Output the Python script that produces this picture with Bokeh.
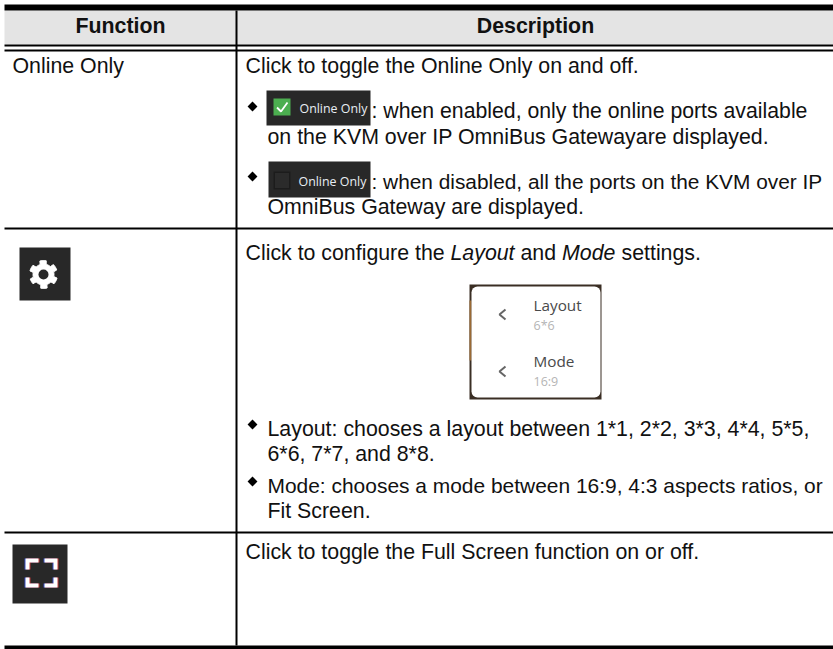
from bokeh.plotting import figure
from bokeh.embed import file_html
from bokeh.resources import INLINE
from bokeh.core.properties import value
import numpy as np

W, H = 833, 649
ARIAL = "Liberation Sans"
OPEN = "Open Sans"

headers = ["Function", "Description"]
function_labels = ["Online Only"]
desc_lines = [
    "Click to toggle the Online Only on and off.",
    ": when enabled, only the online ports available",
    "on the KVM over IP OmniBus Gatewayare displayed.",
    ": when disabled, all the ports on the KVM over IP",
    "OmniBus Gateway are displayed.",
    "Layout: chooses a layout between 1*1, 2*2, 3*3, 4*4, 5*5,",
    "6*6, 7*7, and 8*8.",
    "Mode: chooses a mode between 16:9, 4:3 aspects ratios, or",
    "Fit Screen.",
    "Click to toggle the Full Screen function on or off.",
]
configure_parts = ["Click to configure the", "Layout", "and", "Mode", "settings."]
icon_label = "Online Only"
menu_titles = ["Layout", "Mode"]
menu_values = ["6*6", "16:9"]

p = figure(width=W, height=H, x_range=(0, W), y_range=(H, 0), toolbar_location=None,
           output_backend="svg", min_border=0)
p.axis.visible = False
p.grid.visible = False
p.outline_line_color = None

def box(x0, y0, x1, y1, color):
    p.quad(left=x0, right=x1, top=y0, bottom=y1, fill_color=color, line_color=None)

def txt(x, y, s, size=21.33, font=ARIAL, color="#111111", style="normal", align="left"):
    p.text(x=[x], y=[y], text=[s], text_font=value(font), text_font_size=f"{size}px",
           text_color=color, text_font_style=style, text_align=align, text_baseline="middle")

box(4, 10, W, 44, "#e4e4e4")
box(4, 4, W, 10, "black")
box(4, 44, W, 46, "black")
box(4, 49, W, 51, "black")
box(4, 227, W, 229, "black")
box(4, 531, W, 533, "black")
box(4, 645, W, 649, "black")
box(235, 10, 237, 645, "black")

txt(120, 25, headers[0], style="bold", align="center")
txt(535, 25, headers[1], style="bold", align="center")
txt(12, 65, function_labels[0])

txt(245, 65, desc_lines[0])
txt(371, 110, desc_lines[1], 21.25)
txt(267, 136, desc_lines[2])
txt(371, 180.5, desc_lines[3], 20.85)
txt(267, 206, desc_lines[4])
txt(267, 428, desc_lines[5])
txt(267, 453, desc_lines[6])
txt(267, 485, desc_lines[7], 20.95)
txt(267, 510, desc_lines[8])
txt(245, 551, desc_lines[9])

xs = [245, 450, 520, 561.5, 621]
styles = ["normal", "italic", "normal", "italic", "normal"]
for x, s, st in zip(xs, configure_parts, styles):
    txt(x, 252, s, style=st)

p.scatter(x=[252, 252, 252, 252], y=[106, 176, 424, 481], marker="square", angle=np.pi / 4,
          size=7, fill_color="black", line_color=None)

DARK = "#282828"
box(266, 90, 370, 125, DARK)
box(268, 161, 370, 197, DARK)
box(273, 98, 290, 115, "#4cae50")
p.line(x=[276.5, 280.5, 287], y=[107, 111, 102], line_color="white", line_width=1.8)
box(273, 171, 290, 189, "#1c1c1c")
box(274.5, 172.5, 288.5, 187.5, "#2b2b2b")
txt(299, 107.5, icon_label, 12.4, OPEN, "#e8eef4")
txt(298, 181, icon_label, 12.4, OPEN, "#e8eef4")

box(19, 247, 70, 300, DARK)
cx, cy = 43, 274
ang = np.linspace(0, 2 * np.pi, 96, endpoint=False)
rad = 10.5 + 3.5 * (np.cos(6 * ang) > 0)
p.patch(cx + rad * np.sin(ang), cy + rad * np.cos(ang), fill_color="white", line_color="white", line_width=1)
p.scatter(x=[cx], y=[cy], marker="circle", size=10, fill_color=DARK, line_color=None)

box(12, 544, 67, 603, DARK)
l, r, t, b = 27, 55, 560, 585
arm_x, arm_y = 11, 9
for ln_c, dx in (("#3b4fc4", -1), ("#c43b3b", 1), ("white", 0)):
    p.multi_line(
        xs=[[l + dx, l + dx, l + arm_x + dx], [r + dx, r + dx, r - arm_x + dx],
            [l + dx, l + dx, l + arm_x + dx], [r + dx, r + dx, r - arm_x + dx]],
        ys=[[t + arm_y, t, t], [t + arm_y, t, t], [b - arm_y + 1, b, b], [b - arm_y + 1, b, b]],
        line_color=ln_c, line_width=4, line_join="miter")

# popup: dark on top, warm tones along the sides, as in the screenshot it was cut from
box(469, 284, 601, 399, "#3a2e24")
box(469, 300, 471, 360, "#9a6a34")
p.quad(left=471, right=600, top=286, bottom=397, fill_color="white", line_color=None,
       border_radius=6)
for cyc in (314, 371):
    p.line(x=[505, 499, 505], y=[cyc - 5, cyc, cyc + 5], line_color="#666666", line_width=2)
txt(533, 304, menu_titles[0], 15.3, OPEN, "#4a4a4a")
txt(533, 325, menu_values[0], 12.5, OPEN, "#b5b5b5")
txt(533, 360, menu_titles[1], 15.3, OPEN, "#4a4a4a")
txt(533, 381, menu_values[1], 12.5, OPEN, "#b5b5b5")

open("out.html", "w").write(file_html(p, INLINE))
